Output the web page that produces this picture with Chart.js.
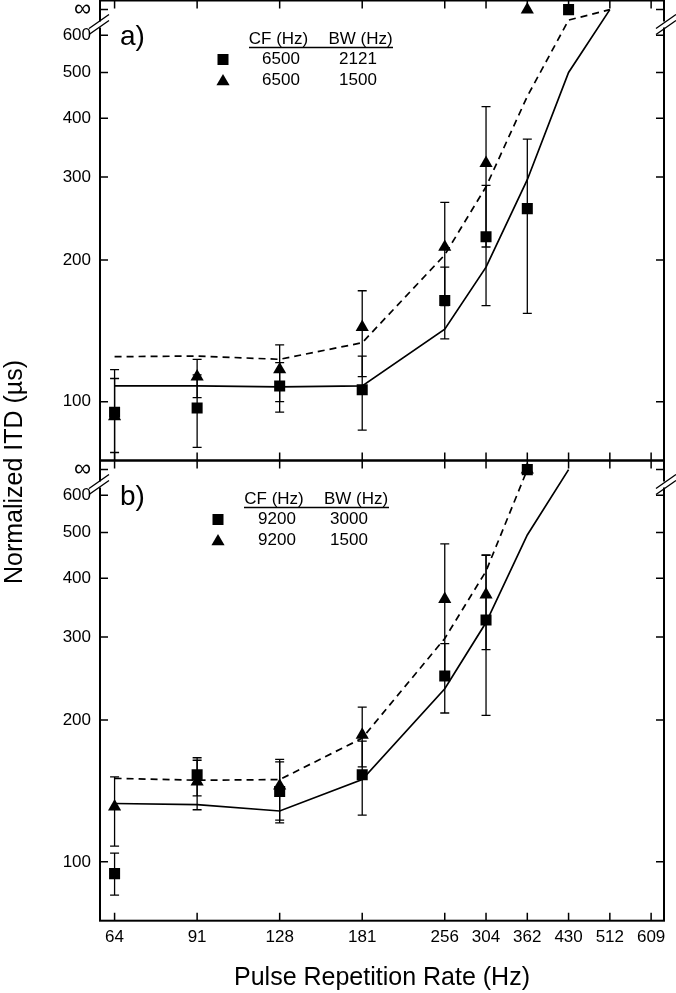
<!DOCTYPE html>
<html>
<head>
<meta charset="utf-8">
<script src="https://cdn.jsdelivr.net/npm/chart.js@4.4.1/dist/chart.umd.min.js"></script>
<style>
  html, body { margin: 0; padding: 0; background: #fff; overflow: hidden; }
  #wrap { position: relative; width: 676px; height: 993px; overflow: hidden; }
  #wrap canvas { position: absolute; left: 0; }
  #panelA { top: -40px; }
  #panelB { top: 0; }
</style>
</head>
<body>
<div id="wrap">
  <canvas id="panelA" width="676" height="1033"></canvas>
  <canvas id="panelB" width="676" height="993"></canvas>
</div>
<script>
// ---- data ----
const INF = 680;   // value used for the "∞" row above the axis break
const X_TICKS  = [64, 90.51, 128, 181.02, 256, 304.44, 362.04, 430.54, 512, 608.87];
const X_LABELS = ['64', '91', '128', '181', '256', '304', '362', '430', '512', '609'];
const Y_TICKS  = [100, 200, 300, 400, 500, 600, INF];

// panel a) CF 6500
const rateA_sq   = [64, 90.51, 128, 181.02, 256, 304.44, 362.04, 430.54];
const itdA_sq    = [95, 97, 108, 106, 164, 224, 257, INF];
const loA_sq     = [78, 80, 95, 87, 136, 160, 154, null];
const hiA_sq     = [117, 114, 121, 125, 193, 288, 361, null];
const rateA_tri  = [64, 90.51, 128, 181.02, 256, 304.44, 362.04];
const itdA_tri   = [93, 113, 117, 144, 213, 321, INF];
const loA_tri    = [74, 102, 100, 113, 160, 213, null];
const hiA_tri    = [112, 123, 132, 172, 265, 423, null];
const rateA_fit  = [64, 90.51, 128, 181.02, 256, 304.44, 362.04, 430.54, 512];
const fitA_solid = [108, 108, 107.5, 108, 142.5, 193, 296, 500, INF];
const fitA_dash  = [124.6, 125, 123, 133.4, 205, 286, 445, 646, INF];
const legA_cf    = ['6500', '6500'];
const legA_bw    = ['2121', '1500'];

// panel b) CF 9200
const rateB_pts   = [64, 90.51, 128, 181.02, 256, 304.44, 362.04];
const itdB_sq     = [94.4, 153, 141, 153, 248, 326, INF];
const loB_sq      = [85, 138, 121, 125.6, 207, 204.6, null];
const hiB_sq      = [104.4, 166.3, 163, 180.4, 290.5, 447, null];
const itdB_tri    = [131, 148, 145, 186, 361, 369, INF];
const loB_tri     = [108, 129, 122.6, 159, 248, 282, null];
const hiB_tri     = [151.5, 164.3, 165, 213, 473, 448.5, null];
const rateB_solid = [64, 90.51, 128, 181.02, 256, 304.44, 362.04, 430.54];
const fitB_solid  = [133, 132.3, 128.2, 149.5, 233, 322, 494, INF];
const rateB_dash  = [64, 90.51, 128, 181.02, 256, 304.44, 362.04];
const fitB_dash   = [150.4, 149, 149.5, 183, 298, 414, INF];
const legB_cf     = ['9200', '9200'];
const legB_bw     = ['3000', '1500'];

const X_MIN = 60.2, X_MAX = 642.7;
const Y_MIN = 75, Y_MAX = 711;
const FONT = '"Liberation Sans", Arial, Helvetica, sans-serif';

Chart.defaults.font.family = FONT;
Chart.defaults.color = '#000';

const pts = (xs, ys) => xs.map((x, i) => ({ x, y: ys[i] }));

function triPath(ctx, x, y, r) {
  ctx.beginPath();
  ctx.moveTo(x, y - r);
  ctx.lineTo(x + r * 0.866, y + r * 0.5);
  ctx.lineTo(x - r * 0.866, y + r * 0.5);
  ctx.closePath();
  ctx.fill();
}

const panelDeco = {
  id: 'panelDeco',
  beforeDatasetsDraw(chart, args, opts) {
    const { ctx, chartArea: a, scales: { x, y } } = chart;
    ctx.save();
    ctx.beginPath();
    ctx.rect(a.left, a.top, a.right - a.left, a.bottom - a.top);
    ctx.clip();
    ctx.strokeStyle = '#000';
    ctx.lineWidth = 1.3;
    (opts.errors || []).forEach(e => {
      e.xs.forEach((xv, i) => {
        if (e.lo[i] == null) return;
        const px = x.getPixelForValue(xv);
        const p0 = y.getPixelForValue(e.lo[i]);
        const p1 = y.getPixelForValue(e.hi[i]);
        ctx.beginPath();
        ctx.moveTo(px, p0); ctx.lineTo(px, p1);
        ctx.moveTo(px - 4.5, p0); ctx.lineTo(px + 4.5, p0);
        ctx.moveTo(px - 4.5, p1); ctx.lineTo(px + 4.5, p1);
        ctx.stroke();
      });
    });
    ctx.restore();
  },
  afterDraw(chart, args, opts) {
    const { ctx, chartArea: a, scales: { x, y } } = chart;
    ctx.save();
    ctx.strokeStyle = '#000';
    ctx.fillStyle = '#000';

    // inward ticks on all four sides
    ctx.lineWidth = 1.5;
    ctx.beginPath();
    X_TICKS.forEach(v => {
      const px = x.getPixelForValue(v);
      ctx.moveTo(px, a.top); ctx.lineTo(px, a.top + 8);
      ctx.moveTo(px, a.bottom); ctx.lineTo(px, a.bottom - 8);
    });
    Y_TICKS.forEach(v => {
      const py = y.getPixelForValue(v);
      ctx.moveTo(a.left, py); ctx.lineTo(a.left + 8, py);
      ctx.moveTo(a.right, py); ctx.lineTo(a.right - 8, py);
    });
    ctx.stroke();

    // frame
    ctx.lineWidth = 2;
    ctx.strokeRect(a.left, a.top, a.right - a.left, a.bottom - a.top);

    // axis breaks below the ∞ row
    const yc = a.top + 24;
    [a.left - 1, a.right + 2].forEach(xb => {
      ctx.fillStyle = '#fff';
      ctx.fillRect(xb - 3, yc - 3, 6, 6);
      ctx.lineWidth = 1.4;
      ctx.beginPath();
      ctx.moveTo(xb - 10, yc - 3 + 7); ctx.lineTo(xb + 10, yc - 3 - 7);
      ctx.moveTo(xb - 10, yc + 3 + 7); ctx.lineTo(xb + 10, yc + 3 - 7);
      ctx.stroke();
    });
    ctx.fillStyle = '#000';

    // panel label
    ctx.font = '28px ' + FONT;
    ctx.textAlign = 'left';
    ctx.textBaseline = 'middle';
    ctx.fillText(opts.label, a.left + 20, a.top + 37);

    // legend table
    const L = opts.legend;
    ctx.font = '17px ' + FONT;
    ctx.textAlign = 'center';
    ctx.fillText('CF (Hz)', L.cfHeadX, a.top + 39);
    ctx.fillText('BW (Hz)', L.bwHeadX, a.top + 39);
    ctx.lineWidth = 1.3;
    ctx.beginPath();
    ctx.moveTo(L.lineX0, a.top + 47); ctx.lineTo(L.lineX1, a.top + 47);
    ctx.stroke();
    L.cf.forEach((cf, i) => {
      const ry = a.top + 59 + i * 21;
      if (i === 0) ctx.fillRect(L.markX - 5.5, ry - 5.5, 11, 11);
      else triPath(ctx, L.markX, ry + 1, 7.6);
      ctx.fillText(cf, L.cfX, ry);
      ctx.fillText(L.bw[i], L.bwX, ry);
    });

    // shared y axis title (centred between the two panels)
    if (opts.yTitle) {
      ctx.save();
      ctx.translate(15, a.top + 471.5);
      ctx.rotate(-Math.PI / 2);
      ctx.font = '25px ' + FONT;
      ctx.textAlign = 'center';
      ctx.textBaseline = 'middle';
      ctx.fillText('Normalized ITD (\u00b5s)', 0, 0);
      ctx.restore();
    }
    ctx.restore();
  }
};

function lineSet(data, dash) {
  return {
    type: 'line', data, borderColor: '#000', borderWidth: 1.7,
    borderDash: dash ? [7, 5] : [], pointRadius: 0, fill: false, tension: 0
  };
}
function markSet(data, style) {
  return {
    type: 'scatter', data, pointStyle: style,
    pointRadius: style === 'rect' ? 7.8 : 7.6,
    backgroundColor: '#000', borderColor: '#000', borderWidth: 0
  };
}

function makePanel(id, cfg) {
  return new Chart(document.getElementById(id), {
    type: 'scatter',
    data: { datasets: cfg.datasets },
    options: {
      responsive: false, animation: false, devicePixelRatio: 1,
      layout: { padding: { left: 0, right: 12, top: cfg.padTop, bottom: cfg.padBottom } },
      plugins: {
        legend: { display: false },
        tooltip: { enabled: false },
        panelDeco: cfg.deco
      },
      scales: {
        x: {
          type: 'logarithmic', min: X_MIN, max: X_MAX,
          display: cfg.showX,
          afterBuildTicks: s => { s.ticks = X_TICKS.map(v => ({ value: v })); },
          afterFit: s => {
            s.height = cfg.showX ? 72.3 : 0;
            s.paddingLeft = 0; s.paddingRight = 0; s.paddingTop = 0; s.paddingBottom = 0;
          },
          grid: { display: false, drawTicks: false },
          border: { display: false },
          ticks: {
            autoSkip: false, maxRotation: 0, padding: 6, color: '#000',
            font: { size: 17 },
            callback: (v, i) => X_LABELS[i]
          },
          title: {
            display: true, text: 'Pulse Repetition Rate (Hz)', color: '#000',
            font: { size: 25 }, padding: { top: 0, bottom: 0 }
          }
        },
        y: {
          type: 'logarithmic', min: Y_MIN, max: Y_MAX,
          afterBuildTicks: s => { s.ticks = Y_TICKS.map(v => ({ value: v })); },
          afterFit: s => { s.width = 100; s.paddingTop = 0; s.paddingBottom = 0; },
          grid: { display: false, drawTicks: false },
          border: { display: false },
          ticks: {
            autoSkip: false, padding: 9, color: '#000',
            font: c => (c.tick && c.tick.value === INF) ? { size: 24 } : { size: 17 },
            callback: v => v === INF ? '\u221e' : String(v)
          }
        }
      }
    },
    plugins: [panelDeco]
  });
}

// top panel canvas is shifted 40px up, so its plot area starts at page y = 0.5
makePanel('panelA', {
  padTop: 40.5, padBottom: 1033 - 500.5, showX: false,
  datasets: [
    lineSet(pts(rateA_fit, fitA_solid), false),
    lineSet(pts(rateA_fit, fitA_dash), true),
    markSet(pts(rateA_sq, itdA_sq), 'rect'),
    markSet(pts(rateA_tri, itdA_tri), 'triangle')
  ],
  deco: {
    label: 'a)', yTitle: true,
    errors: [
      { xs: rateA_sq, lo: loA_sq, hi: hiA_sq },
      { xs: rateA_tri, lo: loA_tri, hi: hiA_tri }
    ],
    legend: { markX: 223, cfHeadX: 278.5, bwHeadX: 360.5, cfX: 281, bwX: 358,
              lineX0: 249, lineX1: 393, cf: legA_cf, bw: legA_bw }
  }
});

makePanel('panelB', {
  padTop: 460.5, padBottom: 0, showX: true,
  datasets: [
    lineSet(pts(rateB_solid, fitB_solid), false),
    lineSet(pts(rateB_dash, fitB_dash), true),
    markSet(pts(rateB_pts, itdB_sq), 'rect'),
    markSet(pts(rateB_pts, itdB_tri), 'triangle')
  ],
  deco: {
    label: 'b)', yTitle: false,
    errors: [
      { xs: rateB_pts, lo: loB_sq, hi: hiB_sq },
      { xs: rateB_pts, lo: loB_tri, hi: hiB_tri }
    ],
    legend: { markX: 218, cfHeadX: 274, bwHeadX: 356, cfX: 277, bwX: 349,
              lineX0: 244, lineX1: 389, cf: legB_cf, bw: legB_bw }
  }
});
</script>
</body>
</html>
